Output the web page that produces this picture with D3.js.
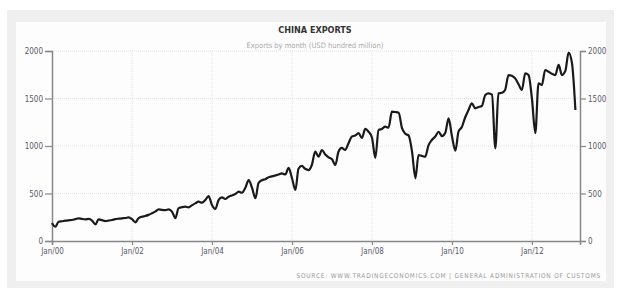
<!DOCTYPE html>
<html>
<head>
<meta charset="utf-8">
<script src="https://d3js.org/d3.v7.min.js"></script>
<style>
  body { margin: 0; background: #fff; }
  svg { display: block; }
  text { font-family: "DejaVu Sans Condensed", "DejaVu Sans", sans-serif; }
</style>
</head>
<body>
<div id="chart"></div>
<script>
// monthly exports, Jan 2000 .. Feb 2013 (USD hundred million)
var startYear = 2000;
var exportsByYear = [
    [190, 150, 203, 208, 214, 218, 221, 230, 239, 232, 228, 232],      // 2000
    [215, 176, 228, 220, 210, 215, 221, 230, 235, 239, 242, 249],      // 2001
    [230, 197, 240, 256, 263, 275, 291, 309, 333, 328, 326, 333],      // 2002
    [309, 240, 344, 355, 361, 354, 375, 396, 414, 403, 431, 473],      // 2003
    [379, 337, 431, 460, 442, 466, 480, 495, 519, 508, 560, 640],      // 2004
    [560, 450, 610, 640, 650, 670, 680, 690, 700, 712, 700, 770],      // 2005
    [660, 537, 760, 790, 760, 747, 800, 940, 887, 958, 910, 880],      // 2006
    [860, 800, 940, 980, 958, 1030, 1098, 1110, 1135, 1084, 1180, 1150], // 2007
    [1090, 874, 1168, 1180, 1203, 1193, 1361, 1358, 1350, 1190, 1130, 1110], // 2008
    [940, 660, 905, 895, 887, 1010, 1063, 1100, 1150, 1105, 1140, 1291], // 2009
    [1100, 950, 1150, 1200, 1300, 1379, 1449, 1397, 1410, 1421, 1537, 1554], // 2010
    [1540, 976, 1554, 1560, 1590, 1747, 1740, 1712, 1650, 1590, 1765, 1747], // 2011
    [1500, 1134, 1660, 1642, 1800, 1782, 1760, 1747, 1853, 1747, 1790, 1982], // 2012
    [1870, 1379]                                                       // 2013
];
var yTicks = [0, 500, 1000, 1500, 2000];
var xTickYears = [2000, 2002, 2004, 2006, 2008, 2010, 2012];

var title = "CHINA EXPORTS";
var subtitle = "Exports by month (USD hundred million)";
var source = "SOURCE:  WWW.TRADINGECONOMICS.COM  |  GENERAL  ADMINISTRATION  OF  CUSTOMS";

var data = [];
exportsByYear.forEach(function(vals, i) {
    vals.forEach(function(v, m) {
        data.push({date: new Date(startYear + i, m, 1), value: v});
    });
});

var width = 620, height = 291;
var plotLeft = 52, plotRight = 580, plotTop = 51, plotBottom = 241;

var svg = d3.select("#chart").append("svg")
    .attr("width", width)
    .attr("height", height);

// frame
svg.append("rect").attr("x", 7).attr("y", 10).attr("width", 607).attr("height", 278)
    .attr("fill", "#efefef");
svg.append("rect").attr("x", 16).attr("y", 22).attr("width", 590).attr("height", 259)
    .attr("fill", "#fdfdfd");

var x = d3.scaleTime()
    .domain([new Date(2000, 0, 1), new Date(2013, 2, 15)])
    .range([plotLeft, plotRight]);
var y = d3.scaleLinear().domain([0, 2000]).range([plotBottom, plotTop]);

// grid
svg.append("g").selectAll("line")
    .data(yTicks.slice(1))
    .enter().append("line")
    .attr("x1", plotLeft).attr("x2", plotRight)
    .attr("y1", function(d) { return y(d); }).attr("y2", function(d) { return y(d); })
    .attr("stroke", "#e2e2e2").attr("stroke-dasharray", "1,1");
svg.append("g").selectAll("line")
    .data(xTickYears.slice(1))
    .enter().append("line")
    .attr("x1", function(d) { return x(new Date(d, 0, 1)); })
    .attr("x2", function(d) { return x(new Date(d, 0, 1)); })
    .attr("y1", plotTop).attr("y2", plotBottom)
    .attr("stroke", "#e2e2e2").attr("stroke-dasharray", "1,1");

// axes
var axisColor = "#888";
var leftAxis = svg.append("g").attr("transform", "translate(" + plotLeft + ",0)")
    .call(d3.axisLeft(y).tickValues(yTicks).tickFormat(d3.format("d")).tickSize(7).tickPadding(2));
var rightAxis = svg.append("g").attr("transform", "translate(" + plotRight + ",0)")
    .call(d3.axisRight(y).tickValues(yTicks).tickFormat(d3.format("d")).tickSize(6).tickPadding(2));
var bottomAxis = svg.append("g").attr("transform", "translate(0," + plotBottom + ")")
    .call(d3.axisBottom(x)
        .tickValues(xTickYears.map(function(d) { return new Date(d, 0, 1); }))
        .tickFormat(d3.timeFormat("Jan/%y"))
        .tickSize(4).tickPadding(3));

[leftAxis, rightAxis, bottomAxis].forEach(function(g) {
    g.select(".domain").attr("stroke", axisColor).attr("stroke-width", 1.5);
    g.selectAll(".tick line").attr("stroke", axisColor).attr("stroke-width", 1.2);
    g.selectAll(".tick text").attr("fill", "#5a5a6a").style("font-size", "8px");
});

// series
var line = d3.line()
    .x(function(d) { return x(d.date); })
    .y(function(d) { return y(d.value); })
    .curve(d3.curveMonotoneX);

svg.append("path")
    .datum(data)
    .attr("fill", "none")
    .attr("stroke", "#1a1a1a")
    .attr("stroke-width", 2.2)
    .attr("stroke-linejoin", "round")
    .attr("d", line);

// texts
svg.append("text").attr("x", 315).attr("y", 33)
    .attr("text-anchor", "middle")
    .style("font-size", "9px").style("font-weight", "bold")
    .attr("fill", "#333").text(title);
svg.append("text").attr("x", 315).attr("y", 48)
    .attr("text-anchor", "middle")
    .style("font-size", "7.5px")
    .attr("fill", "#aaa").text(subtitle);
svg.append("text").attr("x", 601).attr("y", 278)
    .attr("text-anchor", "end")
    .style("font-size", "6.5px").style("letter-spacing", "0.8px")
    .attr("fill", "#999").text(source);
</script>
</body>
</html>
